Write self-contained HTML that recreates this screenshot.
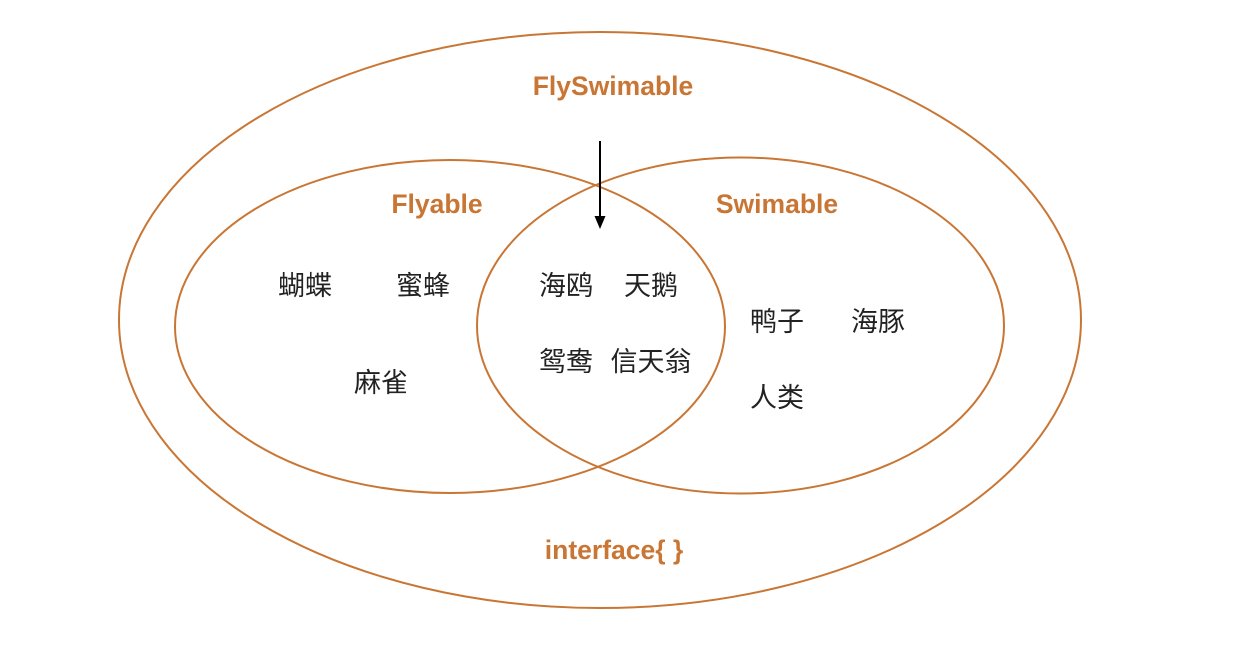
<!DOCTYPE html>
<html><head><meta charset="utf-8"><style>html,body{margin:0;padding:0;background:#fff}</style></head>
<body>
<svg width="1250" height="648" viewBox="0 0 1250 648" xmlns="http://www.w3.org/2000/svg">
<g fill="none" stroke="#c97634" stroke-width="2">
<ellipse cx="600" cy="320" rx="481" ry="288"/>
<ellipse cx="450" cy="326.5" rx="275" ry="166.5"/>
<ellipse cx="740.5" cy="325.5" rx="263.5" ry="168"/>
</g>
<line x1="600" y1="141" x2="600" y2="218" stroke="#000" stroke-width="2"/>
<polygon points="594.5,216 605.5,216 600,229" fill="#000"/>
<g font-family="Liberation Sans, sans-serif" font-weight="bold" font-size="26.5" fill="#c97634" text-anchor="middle">
<text x="613" y="95">FlySwimable</text>
<text x="437" y="213">Flyable</text>
<text x="777" y="213">Swimable</text>
<text x="614" y="559">interface{ }</text>
</g>
<g font-family="Liberation Sans, Noto Sans CJK SC, sans-serif" font-size="27" fill="#222" text-anchor="middle">
<text x="305" y="295">蝴蝶</text>
<text x="423" y="295">蜜蜂</text>
<text x="381" y="392">麻雀</text>
<text x="566" y="295">海鸥</text>
<text x="651" y="295">天鹅</text>
<text x="566" y="371">鸳鸯</text>
<text x="651" y="371">信天翁</text>
<text x="777" y="331">鸭子</text>
<text x="878" y="331">海豚</text>
<text x="777" y="407">人类</text>
</g>
</svg>
</body></html>
